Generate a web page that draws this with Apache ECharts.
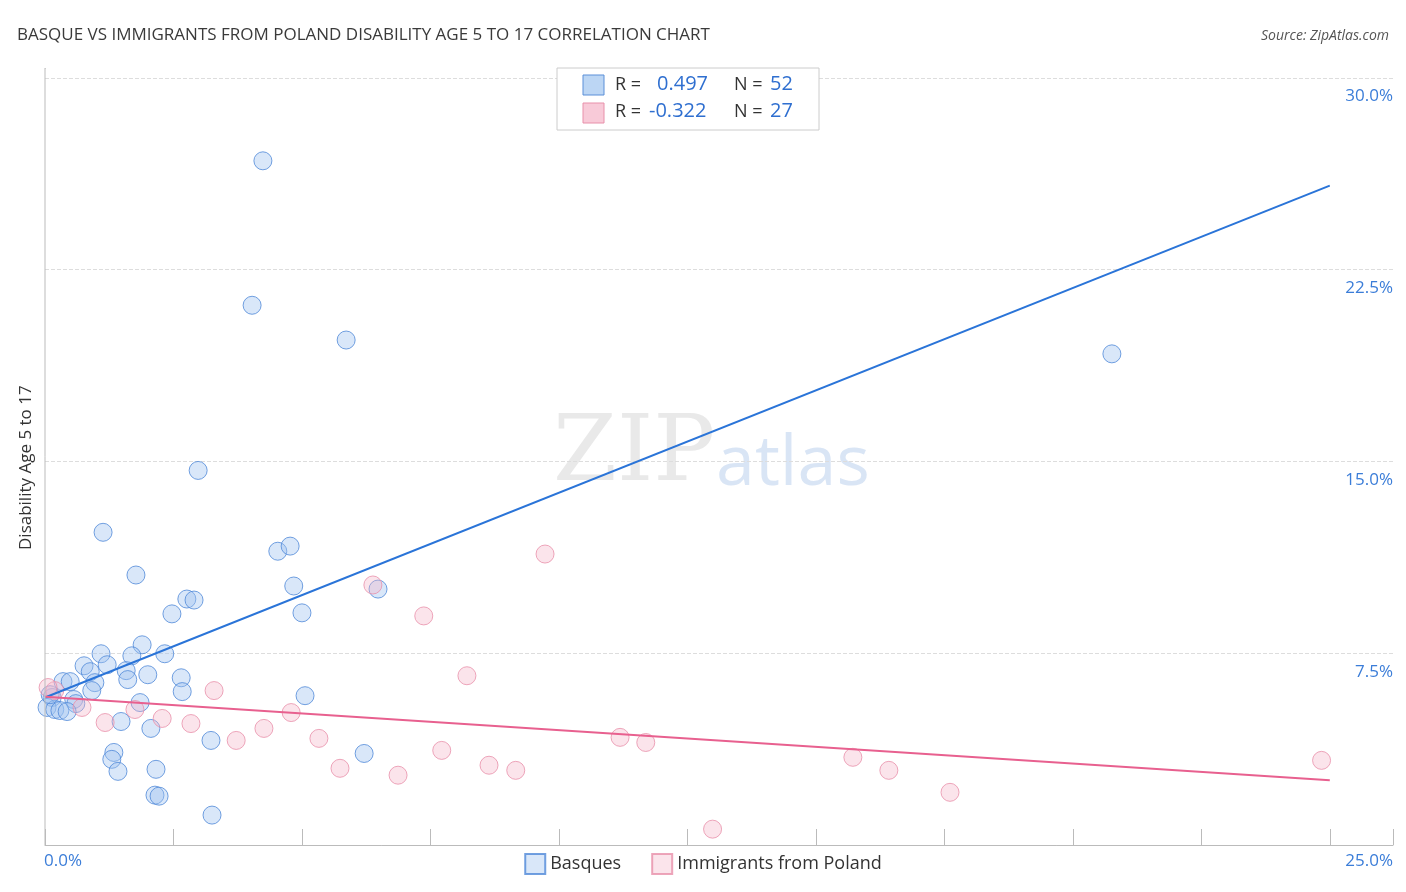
<!DOCTYPE html><html><head><meta charset="utf-8"><script src="https://cdn.jsdelivr.net/npm/echarts@6/dist/echarts.min.js"></script>
<style>html,body{margin:0;padding:0;background:#fff}#c{width:1406px;height:892px}</style></head><body><div id="c"></div><script>
const basqueX=[4.24,4.03,5.86,20.76,2.98,1.13,4.53,4.77,1.77,4.84,6.48,2.76,2.90,2.47,5.00,1.89,1.09,1.69,2.33,0.76,1.21,1.58,0.88,0.35,0.49,1.61,2.00,2.65,0.97,2.67,0.91,5.06,0.14,0.56,1.85,0.60,0.04,0.19,0.29,0.43,1.48,2.06,3.23,1.34,1.30,6.21,1.42,2.16,2.14,2.22,3.25,0.10];
const basqueY=[26.76,21.11,19.75,19.21,14.65,12.23,11.49,11.69,10.56,10.13,10.01,9.62,9.58,9.04,9.08,7.83,7.48,7.40,7.48,7.01,7.05,6.82,6.78,6.39,6.39,6.47,6.66,6.54,6.35,6.00,6.04,5.84,5.77,5.69,5.57,5.53,5.38,5.30,5.26,5.22,4.83,4.56,4.09,3.62,3.35,3.58,2.88,2.96,1.95,1.91,1.17,5.88];
const polandX=[0.19,0.06,0.72,1.17,1.75,2.28,2.84,3.29,3.72,4.26,4.79,5.33,5.74,6.38,6.87,7.37,7.72,8.21,8.64,9.16,9.73,11.19,11.69,12.99,15.72,16.42,17.61,24.84];
const polandY=[6.04,6.16,5.38,4.79,5.30,4.95,4.75,6.04,4.09,4.56,5.18,4.17,3.00,10.17,2.73,8.96,3.70,6.62,3.12,2.92,11.38,4.21,4.01,0.62,3.43,2.92,2.06,3.31];
const basqueTrend=[[0,5.77],[25,25.79]];
const polandTrend=[[0,5.8],[25,2.53]];
const ch=echarts.init(document.getElementById('c'));
const zip=(a,b)=>a.map((v,i)=>[v,b[i]]);
ch.setOption({
 animation:false,
 title:[{text:'BASQUE VS IMMIGRANTS FROM POLAND DISABILITY AGE 5 TO 17 CORRELATION CHART',left:12,top:22,textStyle:{fontFamily:'Open Sans',fontSize:17,fontWeight:'normal',color:'#3a3a3a'}},
  {text:'Source: ZipAtlas.com',right:12,top:24,textStyle:{fontFamily:'Open Sans',fontSize:14,fontStyle:'italic',fontWeight:'normal',color:'#555'}}],
 grid:{left:45,right:13,top:68,bottom:47,containLabel:false,outerBoundsMode:'none'},
 xAxis:{type:'value',min:0,max:26.23,interval:2.5,axisLine:{lineStyle:{color:'#bbb'}},axisTick:{inside:true,length:16,lineStyle:{color:'#bbb'}},axisLabel:{show:false},splitLine:{show:false}},
 yAxis:{type:'value',min:0,max:30.39,interval:7.5,position:'right',axisLine:{show:false},axisTick:{show:false},
  splitLine:{show:true,lineStyle:{type:'dashed',color:'#ddd'}},
  axisLabel:{show:true,inside:true,margin:0,showMinLabel:false,formatter:v=>(v===0||v>30.1)?'':v.toFixed(1)+'%',color:'#3b7dd8',fontFamily:'Open Sans',fontSize:17,verticalAlign:'top',padding:[10,0,0,0]}},
 legend:{bottom:12,left:'center',icon:'rect',itemWidth:20,itemHeight:20,itemGap:30,textStyle:{fontFamily:'Open Sans',fontSize:18,color:'#333'},data:['Basques','Immigrants from Poland']},
 graphic:[
  {type:'line',z:10,shape:{x1:46,y1:68,x2:1393,y2:68},style:{stroke:'#fff',lineWidth:2}},
  {type:'line',z:11,shape:{x1:45,y1:68,x2:45,y2:845},style:{stroke:'#bbb',lineWidth:1}},
  {type:'text',left:44,top:853,style:{text:'0.0%',fontFamily:'Open Sans',fontSize:17,fill:'#3b7dd8'}},
  {type:'text',right:13,top:853,style:{text:'25.0%',fontFamily:'Open Sans',fontSize:17,fill:'#3b7dd8'}},
  {type:'text',x:18,y:550,rotation:Math.PI/2,style:{text:'Disability Age 5 to 17',fontFamily:'Open Sans',fontSize:17,fill:'#333'}},
  {type:'text',x:553,y:410,z:0,style:{text:'ZIP',fontFamily:'DejaVu Serif',fontSize:92,fill:'rgba(200,200,200,0.4)'}},
  {type:'text',x:716,y:430,z:0,style:{text:'atlas',fontFamily:'Open Sans',fontSize:70,fill:'rgba(160,190,230,0.4)'}},
  {type:'rect',z:12,shape:{x:557,y:68,width:262,height:62},style:{fill:'#fff',stroke:'#ccc',lineWidth:1}},
  {type:'rect',z:13,shape:{x:583,y:75,width:21,height:20},style:{fill:'rgba(160,196,240,0.7)',stroke:'#5b8fd8'}},
  {type:'rect',z:13,shape:{x:583,y:103,width:21,height:20},style:{fill:'rgba(245,180,200,0.7)',stroke:'#e890aa'}},
  {type:'text',z:13,x:615,y:76,style:{text:'R =',fontFamily:'Open Sans',fontSize:18,fill:'#333'}},
  {type:'text',z:13,x:657,y:74,style:{text:'0.497',fontFamily:'Open Sans',fontSize:20,fill:'#2f6fd0'}},
  {type:'text',z:13,x:734,y:76,style:{text:'N =',fontFamily:'Open Sans',fontSize:18,fill:'#333'}},
  {type:'text',z:13,x:770,y:74,style:{text:'52',fontFamily:'Open Sans',fontSize:20,fill:'#2f6fd0'}},
  {type:'text',z:13,x:615,y:103,style:{text:'R =',fontFamily:'Open Sans',fontSize:18,fill:'#333'}},
  {type:'text',z:13,x:649,y:101,style:{text:'-0.322',fontFamily:'Open Sans',fontSize:20,fill:'#2f6fd0'}},
  {type:'text',z:13,x:734,y:103,style:{text:'N =',fontFamily:'Open Sans',fontSize:18,fill:'#333'}},
  {type:'text',z:13,x:770,y:101,style:{text:'27',fontFamily:'Open Sans',fontSize:20,fill:'#2f6fd0'}}
 ],
 series:[
  {name:'Basques',type:'scatter',symbolSize:18,data:zip(basqueX,basqueY),itemStyle:{color:'rgba(160,196,240,0.5)',borderColor:'#4f88d8',borderWidth:1}},
  {name:'Immigrants from Poland',type:'scatter',symbolSize:18,data:zip(polandX,polandY),itemStyle:{color:'rgba(245,180,200,0.45)',borderColor:'#e890aa',borderWidth:1}},
  {name:'bt',type:'line',data:basqueTrend,symbol:'none',lineStyle:{color:'#2a74d8',width:2},z:5},
  {name:'pt',type:'line',data:polandTrend,symbol:'none',lineStyle:{color:'#e8608f',width:2},z:5}
 ]
});
</script></body></html>
